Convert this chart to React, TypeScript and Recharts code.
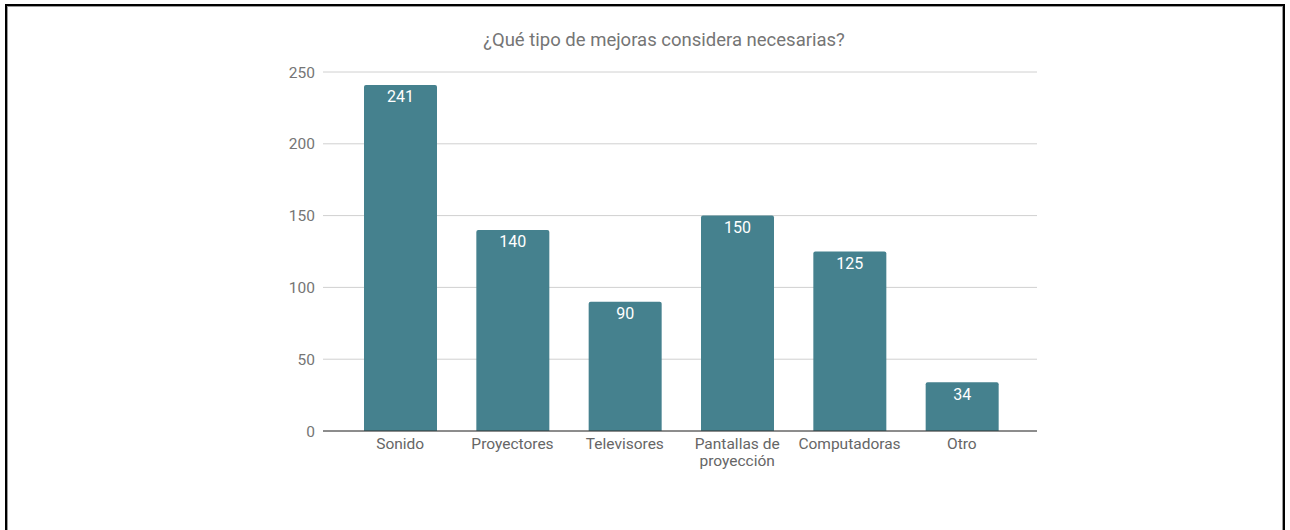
import { BarChart, Bar, XAxis, YAxis, CartesianGrid, LabelList, Text } from 'recharts';

const categories = ['Sonido', 'Proyectores', 'Televisores', 'Pantallas de proyección', 'Computadoras', 'Otro'];
const responses = [241, 140, 90, 150, 125, 34];
const yTicks = [0, 50, 100, 150, 200, 250];

const data = categories.map((name, i) => ({ name, value: responses[i] }));

const CategoryTick = (props: any) => {
  const { x, y, payload } = props;
  return (
    <Text
      x={x}
      y={y}
      width={110}
      textAnchor="middle"
      verticalAnchor="start"
      lineHeight={17}
      fill="#666666"
      fontSize={15.5}
      fontFamily="Roboto"
    >
      {payload.value}
    </Text>
  );
};

export default function App() {
  return (
    <div style={{ position: 'absolute', left: 0, top: 0, width: 1290, height: 530, background: '#fff', overflow: 'hidden', fontFamily: 'Roboto' }}>
      {/* frame around the screenshot */}
      <div
        style={{
          position: 'absolute',
          left: 5,
          top: 4,
          width: 1276,
          height: 560,
          borderTop: '2px solid #000',
          borderLeft: '2px solid #000',
          borderRight: '2px solid #000',
          boxShadow: 'inset 1px 1px 0 #9a9a9a, inset -1px 0 0 #9a9a9a',
        }}
      />
      <div
        style={{
          position: 'absolute',
          top: 29,
          left: 0,
          width: 1328,
          textAlign: 'center',
          fontSize: 18.5,
          color: '#757575',
        }}
      >
        ¿Qué tipo de mejoras considera necesarias?
      </div>
      <div style={{ position: 'absolute', left: 0, top: 0 }}>
        <BarChart
          width={1290}
          height={530}
          data={data}
          margin={{ top: 72, right: 253, left: 263, bottom: 69 }}
        >
          <CartesianGrid vertical={false} stroke="#d0d0d0" />
          <XAxis
            dataKey="name"
            interval={0}
            height={30}
            padding={{ left: 21, right: 19 }}
            tickLine={false}
            tickSize={0}
            tickMargin={7}
            axisLine={{ stroke: '#333333', strokeWidth: 1 }}
            tick={<CategoryTick />}
          />
          <YAxis
            width={60}
            domain={[0, 250]}
            ticks={yTicks}
            tickLine={false}
            axisLine={false}
            tickSize={0}
            tickMargin={8}
            tick={{ fill: '#757575', fontSize: 15.5, fontFamily: 'Roboto' }}
          />
          <Bar dataKey="value" fill="#45818e" barSize={73} radius={[2, 2, 0, 0]} isAnimationActive={false}>
            <LabelList dataKey="value" position="insideTop" offset={6} fill="#ffffff" fontSize={16} fontFamily="Roboto" />
          </Bar>
        </BarChart>
      </div>
    </div>
  );
}
